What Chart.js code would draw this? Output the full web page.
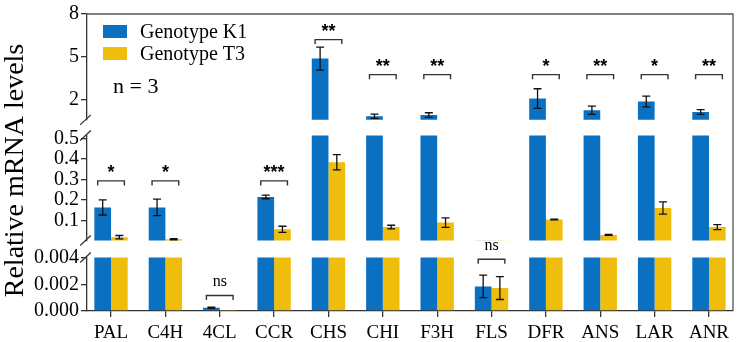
<!DOCTYPE html>
<html>
<head>
<meta charset="utf-8">
<script src="https://cdn.jsdelivr.net/npm/chart.js@4.4.0/dist/chart.umd.min.js"></script>
<style>
  html, body { margin: 0; padding: 0; background: #fff; }
</style>
</head>
<body>
<canvas id="chart" width="738" height="342"></canvas>
<script>
// genes on the x axis
const categories = ['PAL', 'C4H', '4CL', 'CCR', 'CHS', 'CHI', 'F3H', 'FLS', 'DFR', 'ANS', 'LAR', 'ANR'];

// relative mRNA levels, mean and error
const k1Values = [0.164, 0.164, 0.00024, 0.215, 4.86, 0.80, 0.89, 0.00184, 2.05, 1.22, 1.84, 1.10];
const k1Errors = [0.037, 0.040, 0.00004, 0.009, 0.81, 0.15, 0.16, 0.00084, 0.69, 0.29, 0.38, 0.17];
const t3Values = [0.019, 0.009, 0.00004, 0.057, 0.384, 0.068, 0.090, 0.00172, 0.105, 0.030, 0.161, 0.068];
const t3Errors = [0.008, 0.003, 0, 0.015, 0.037, 0.009, 0.023, 0.00086, 0.002, 0.002, 0.030, 0.012];

// significance marks and the level of their brackets
const significance = ['*', '*', 'ns', '***', '**', '**', '**', 'ns', '*', '**', '*', '**'];
const bracketLevels = [0.293, 0.293, 0.00116, 0.293, 6.2, 3.73, 3.73, 0.00388, 3.73, 3.73, 3.73, 3.73];

// tick labels of the three broken y segments
const topTicks = [2, 5, 8];
const midTicks = [0.1, 0.2, 0.3, 0.4, 0.5];
const lowTicks = [0, 0.002, 0.004];

const seriesLabels = ['Genotype K1', 'Genotype T3'];
const seriesColors = ['#0a70c2', '#efbe0c'];
const sampleNote = 'n = 3';
const yTitle = 'Relative mRNA levels';

const SERIF = "'Liberation Serif', 'Times New Roman', serif";
const SANS = "'Liberation Sans', Arial, sans-serif";
const AXIS_COLOR = '#333';

const segTop = { id: 'yTop', min: 0.55, max: 8, weight: 108, ticks: topTicks, digits: 0 };
const segMid = { id: 'yMid', min: 0.003, max: 0.514, weight: 107, ticks: midTicks, digits: 1 };
const segLow = { id: 'yLow', min: 0, max: 0.004, weight: 54.5, ticks: lowTicks, digits: 3 };
const gapA = { id: 'gapA', weight: 16, gap: true };
const gapB = { id: 'gapB', weight: 17.5, gap: true };
const segments = [segTop, segMid, segLow];
const stackOrder = [segTop, gapA, segMid, gapB, segLow];

function axisFor(v) {
    if (v > segMid.max) return segTop.id;
    if (v > segLow.max) return segMid.id;
    return segLow.id;
}

const scales = {
    x: {
        type: 'linear',
        min: -0.442,
        max: 11.442,
        offset: false,
        afterBuildTicks: axis => { axis.ticks = categories.map((_, i) => ({ value: i })); },
        ticks: {
            callback: v => categories[v],
            font: { family: SERIF, size: 19 },
            color: '#000',
            padding: 5,
            autoSkip: false,
            maxRotation: 0
        },
        grid: { offset: false, drawOnChartArea: false, drawTicks: true, tickLength: 6, color: AXIS_COLOR, lineWidth: 1.3 },
        border: { color: AXIS_COLOR, width: 1.3 },
        afterFit: axis => { axis.height = 31; }
    }
};

stackOrder.forEach((seg, k) => {
    const base = {
        type: 'linear',
        position: 'left',
        stack: 'broken',
        stackWeight: seg.weight,
        weight: stackOrder.length - k,
        afterFit: axis => { axis.width = 87; }
    };
    if (seg.gap) {
        scales[seg.id] = Object.assign(base, {
            min: 0, max: 1,
            ticks: { display: false },
            grid: { display: false },
            border: { display: false }
        });
    } else {
        scales[seg.id] = Object.assign(base, {
            min: seg.min,
            max: seg.max,
            stacked: false,
            afterBuildTicks: axis => { axis.ticks = seg.ticks.map(v => ({ value: v })); },
            ticks: {
                callback: v => Number(v).toFixed(seg.digits),
                font: { family: SERIF, size: 20 },
                color: '#000',
                padding: 2,
                autoSkip: false
            },
            grid: { drawOnChartArea: false, drawTicks: true, tickLength: 6, color: AXIS_COLOR, lineWidth: 1.3 },
            border: { color: AXIS_COLOR, width: 1.3 }
        });
    }
});

const datasets = [];
segments.forEach(seg => {
    [k1Values, t3Values].forEach((vals, s) => {
        datasets.push({
            label: seriesLabels[s],
            data: vals.map((v, i) => ({ x: i, y: v })),
            yAxisID: seg.id,
            stack: 'series' + s,
            backgroundColor: seriesColors[s],
            borderWidth: 0,
            categoryPercentage: 0.614,
            barPercentage: 1,
            clip: false
        });
    });
});

// each bar is clipped to its own y segment
const segmentClip = {
    id: 'segmentClip',
    beforeDatasetDraw(chart, args) {
        const ys = args.meta.yScale;
        const area = chart.chartArea;
        const ctx = chart.ctx;
        ctx.save();
        ctx.beginPath();
        ctx.rect(area.left, ys.top, area.right - area.left, ys.bottom - ys.top);
        ctx.clip();
    },
    afterDatasetDraw(chart) {
        chart.ctx.restore();
    }
};

const decorations = {
    id: 'decorations',
    afterDraw(chart) {
        const ctx = chart.ctx;
        const area = chart.chartArea;
        const barX = (s, i) => chart.getDatasetMeta(s).data[i].x;

        ctx.save();

        // frame on top and right
        ctx.strokeStyle = '#555';
        ctx.lineWidth = 1.3;
        ctx.beginPath();
        ctx.moveTo(area.left - 1, area.top);
        ctx.lineTo(area.right, area.top);
        ctx.lineTo(area.right, area.bottom);
        ctx.stroke();

        // axis break marks
        ctx.strokeStyle = AXIS_COLOR;
        const ax = area.left - 1.5;
        [chart.scales.yTop.bottom, chart.scales.yMid.top, chart.scales.yMid.bottom, chart.scales.yLow.top].forEach(y => {
            ctx.beginPath();
            ctx.moveTo(ax - 5.3, y + 5);
            ctx.lineTo(ax + 5.3, y - 5);
            ctx.stroke();
        });

        // error bars
        ctx.strokeStyle = '#111';
        ctx.lineWidth = 1.3;
        [[k1Values, k1Errors], [t3Values, t3Errors]].forEach(([vals, errs], s) => {
            vals.forEach((v, i) => {
                const e = errs[i];
                if (!e) return;
                const sc = chart.scales[axisFor(v)];
                const x = barX(s, i);
                const yHi = sc.getPixelForValue(v + e);
                const yLo = sc.getPixelForValue(v - e);
                ctx.beginPath();
                ctx.moveTo(x, yHi);
                ctx.lineTo(x, yLo);
                ctx.moveTo(x - 4, yHi);
                ctx.lineTo(x + 4, yHi);
                ctx.moveTo(x - 4, yLo);
                ctx.lineTo(x + 4, yLo);
                ctx.stroke();
            });
        });

        // significance brackets
        ctx.strokeStyle = '#333';
        ctx.lineWidth = 1.4;
        ctx.fillStyle = '#000';
        ctx.textAlign = 'center';
        ctx.textBaseline = 'alphabetic';
        bracketLevels.forEach((level, i) => {
            const sc = chart.scales[axisFor(level)];
            const y = sc.getPixelForValue(level);
            const xl = barX(0, i) - 5;
            const xr = barX(1, i) + 5;
            ctx.beginPath();
            ctx.moveTo(xl, y + 4.5);
            ctx.lineTo(xl, y);
            ctx.lineTo(xr, y);
            ctx.lineTo(xr, y + 4.5);
            ctx.stroke();
            const mark = significance[i];
            if (mark === 'ns') {
                ctx.font = '16px ' + SERIF;
                ctx.fillText(mark, (xl + xr) / 2, y - 9.5);
            } else {
                ctx.font = 'bold 18px ' + SANS;
                ctx.fillText(mark, (xl + xr) / 2, y - 2.5);
            }
        });

        // legend
        ctx.textAlign = 'left';
        ctx.font = '20px ' + SERIF;
        seriesLabels.forEach((label, s) => {
            const y = 25 + s * 22;
            ctx.fillStyle = seriesColors[s];
            ctx.fillRect(103, y, 24, 13);
            ctx.fillStyle = '#000';
            ctx.fillText(label, 140, y + 13);
        });
        ctx.font = '22px ' + SERIF;
        ctx.fillText(sampleNote, 113, 93);

        // y axis title
        ctx.translate(23, 170.5);
        ctx.rotate(-Math.PI / 2);
        ctx.textAlign = 'center';
        ctx.font = '28px ' + SERIF;
        ctx.fillText(yTitle, 0, 0);

        ctx.restore();
    }
};

new Chart(document.getElementById('chart'), {
    type: 'bar',
    data: { datasets },
    options: {
        responsive: false,
        animation: false,
        devicePixelRatio: 1,
        layout: { padding: { top: 8, right: 5, left: 0, bottom: 0 } },
        plugins: {
            legend: { display: false },
            tooltip: { enabled: false }
        },
        scales
    },
    plugins: [segmentClip, decorations]
});
</script>
</body>
</html>
